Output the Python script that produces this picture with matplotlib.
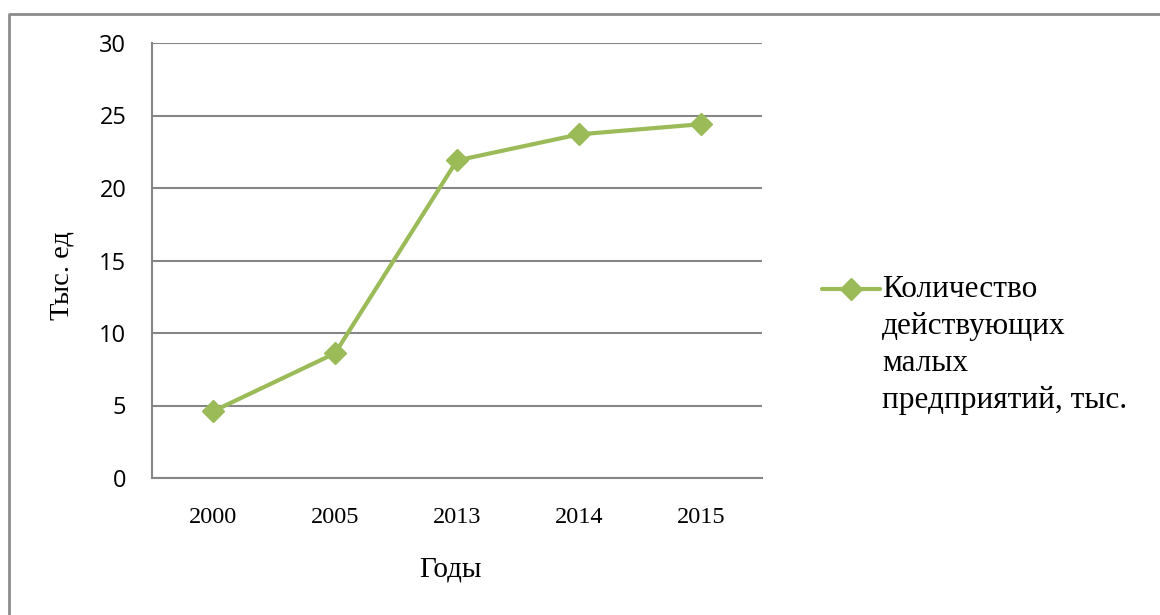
import matplotlib
matplotlib.use("Agg")
import matplotlib.pyplot as plt
from matplotlib.lines import Line2D

years = ["2000", "2005", "2013", "2014", "2015"]
values = [4.6, 8.6, 21.9, 23.7, 24.4]
y_ticks = [0, 5, 10, 15, 20, 25, 30]
series_label = "Количество\nдействующих\nмалых\nпредприятий, тыс."
x_label = "Годы"
y_label = "Тыс. ед"

W, H = 1160, 615
fig = plt.figure(figsize=(W / 100, H / 100), dpi=100)
fig.patch.set_facecolor("white")

ax = fig.add_axes([152 / W, 1 - 478 / H, 610 / W, 435 / H])

green = "#9BBB59"
grid_col = "#868686"
serif = ["Liberation Serif", "DejaVu Serif"]
sans = ["Open Sans", "DejaVu Sans"]

x = list(range(len(years)))
ax.plot(x, values, color=green, lw=3.0, marker="D", ms=11,
        markerfacecolor=green, markeredgecolor=green, solid_joinstyle="round",
        zorder=3, clip_on=False)

ax.set_xlim(-0.5, len(years) - 0.5)
ax.set_ylim(0, 30)
ax.set_yticks(y_ticks)
ax.set_xticks(x)
ax.set_xticklabels(years, fontfamily=serif, fontsize=17.5)
ax.set_yticklabels([str(t) for t in y_ticks], fontfamily=sans, fontsize=17)
ax.tick_params(axis="both", length=0)
ax.tick_params(axis="y", pad=18.5)
ax.tick_params(axis="x", pad=21)

ax.grid(axis="y", color=grid_col, lw=1.5)
ax.set_axisbelow(True)
for s in ["top", "right"]:
    ax.spines[s].set_visible(False)
for s in ["left", "bottom"]:
    ax.spines[s].set_color(grid_col)
    ax.spines[s].set_linewidth(1.5)

ax.set_xlabel(x_label, fontfamily=serif, fontsize=21)
ax.xaxis.set_label_coords((450 - 152) / 610, (478 - 570) / 435)
ax.set_ylabel(y_label, fontfamily=serif, fontsize=20.5)
ax.yaxis.set_label_coords((62 - 152) / 610, (478 - 276) / 435)
ax.yaxis.label.set_verticalalignment("center")
ax.xaxis.label.set_verticalalignment("center")

# legend (manual, handle aligned with first text line)
hy = 1 - 289 / H
fig.add_artist(Line2D([822 / W, 880 / W], [hy, hy], color=green, lw=3.0,
                      solid_capstyle="round", transform=fig.transFigure))
fig.add_artist(Line2D([851 / W], [hy], color=green, marker="D", ms=11,
                      transform=fig.transFigure))
fig.text(882 / W, 1 - 275 / H, series_label, fontfamily=serif, fontsize=22.5,
         va="top", ha="left", linespacing=1.37)

# outer chart border (top and left visible)
fig.add_artist(Line2D([9 / W, 9 / W, 1.0], [0.0, 1 - 14 / H, 1 - 14 / H],
                      color="#8c8c8c", lw=2.0, transform=fig.transFigure))

fig.savefig("out.png", dpi=100, facecolor="white")
